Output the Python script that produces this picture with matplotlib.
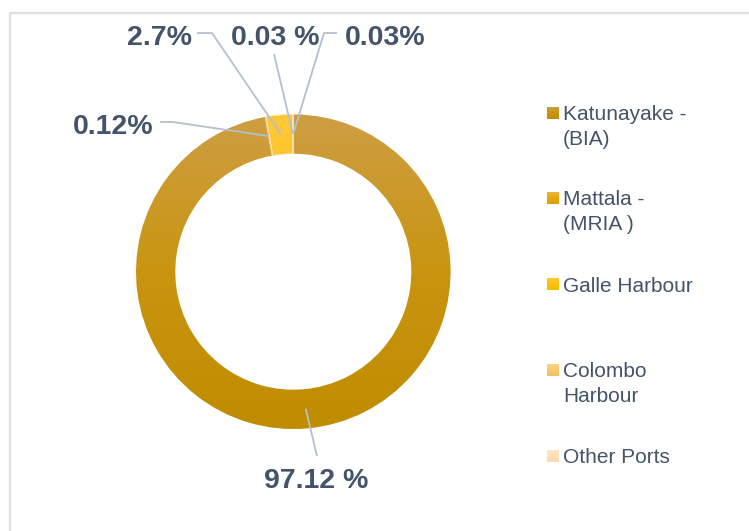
import textwrap
import numpy as np
import matplotlib
matplotlib.use("Agg")
import matplotlib.pyplot as plt
from matplotlib.colors import LinearSegmentedColormap

# ---- data ----
categories = ["Katunayake - (BIA)", "Mattala - (MRIA )", "Galle Harbour",
              "Colombo Harbour", "Other Ports"]
shares = [97.12, 0.12, 2.7, 0.03, 0.03]
value_labels = ["97.12 %", "0.12%", "2.7%", "0.03 %", "0.03%"]

# ---- style ----
W, H = 749, 531
TEXT = "#44546A"
LEADER = "#B4C0CE"
slice_grad = [("#CE9E44", "#C99510", "#C08C00"),
              ("#EFB63C", "#E6A814", "#DE9E00"),
              ("#FFC838", "#FBC20A", "#F4BC00"),
              ("#FAD488", "#F8C870", "#F3BE5C"),
              ("#FEE6C4", "#FDE0B8", "#FAD9AC")]

def Y(y):
    return H - y

fig = plt.figure(figsize=(W / 100, H / 100), dpi=100)
ax = fig.add_axes([0, 0, 1, 1])

cx, cy = 293.3, Y(271.7)
R, ring = 157.3, 39.3

wedges, _ = ax.pie(shares, startangle=90, counterclock=False, radius=R,
                   center=(cx, cy), wedgeprops=dict(width=ring, linewidth=0))

def grad_img(cols, n=256):
    cmap = LinearSegmentedColormap.from_list("g", cols)
    return cmap(np.linspace(0, 1, n))[:, None, :]

for w, cols in zip(wedges, slice_grad):
    w.set_facecolor("none")
    im = ax.imshow(grad_img(cols), extent=[cx - R, cx + R, cy - R, cy + R],
                   origin="upper", aspect="auto", interpolation="bilinear",
                   zorder=0.5)
    im.set_clip_path(w)

# thin light separators for small slices
for w in wedges[1:]:
    w.set_edgecolor("#FBE3B8")
    w.set_linewidth(0.4)

# ---- labels with leader lines ----
layout = [
    dict(text=(316, 488), ha="center", path=[(317, 456)]),
    dict(text=(153, 133.5), ha="right", path=[(173, 122), (160, 122)]),
    dict(text=(192, 45), ha="right", path=[(212, 33), (197, 33)]),
    dict(text=(275, 45), ha="center", path=[(274, 54)]),
    dict(text=(345, 45), ha="left", path=[(324, 33), (337, 33)]),
]
rmid = R - ring / 2
for w, lab, lay in zip(wedges, value_labels, layout):
    a = np.deg2rad((w.theta1 + w.theta2) / 2)
    pts = [(cx + rmid * np.cos(a), cy + rmid * np.sin(a))]
    pts += [(x, Y(y)) for x, y in lay["path"]]
    xs, ys = zip(*pts)
    ax.plot(xs, ys, color=LEADER, lw=1.3, solid_capstyle="butt", zorder=3)
    tx, ty = lay["text"]
    ax.text(tx, Y(ty), lab, ha=lay["ha"], va="baseline", fontsize=20.5,
            fontweight="bold", color=TEXT, family="Liberation Sans")

# ---- legend ----
leg_baselines = [120, 205, 291.5, 377, 463]
line_step = 25
for name, cols, yb in zip(categories, slice_grad, leg_baselines):
    yc = yb - 7
    ax.imshow(grad_img(cols), extent=[547, 559, Y(yc + 6), Y(yc - 6)],
              origin="upper", aspect="auto", interpolation="bilinear",
              zorder=2)
    for i, line in enumerate(textwrap.wrap(name, 13)):
        ax.text(563, Y(yb + i * line_step), line, ha="left", va="baseline",
                fontsize=15, color=TEXT, family="Liberation Sans")

# ---- chart border ----
ax.plot([10, 10, W + 5], [Y(H + 5), Y(13), Y(13)], color="#DCE1E9", lw=1.6,
        zorder=1)

ax.set_xlim(0, W)
ax.set_ylim(0, H)
ax.set_aspect("auto")
ax.axis("off")
fig.savefig("out.png", dpi=100)
